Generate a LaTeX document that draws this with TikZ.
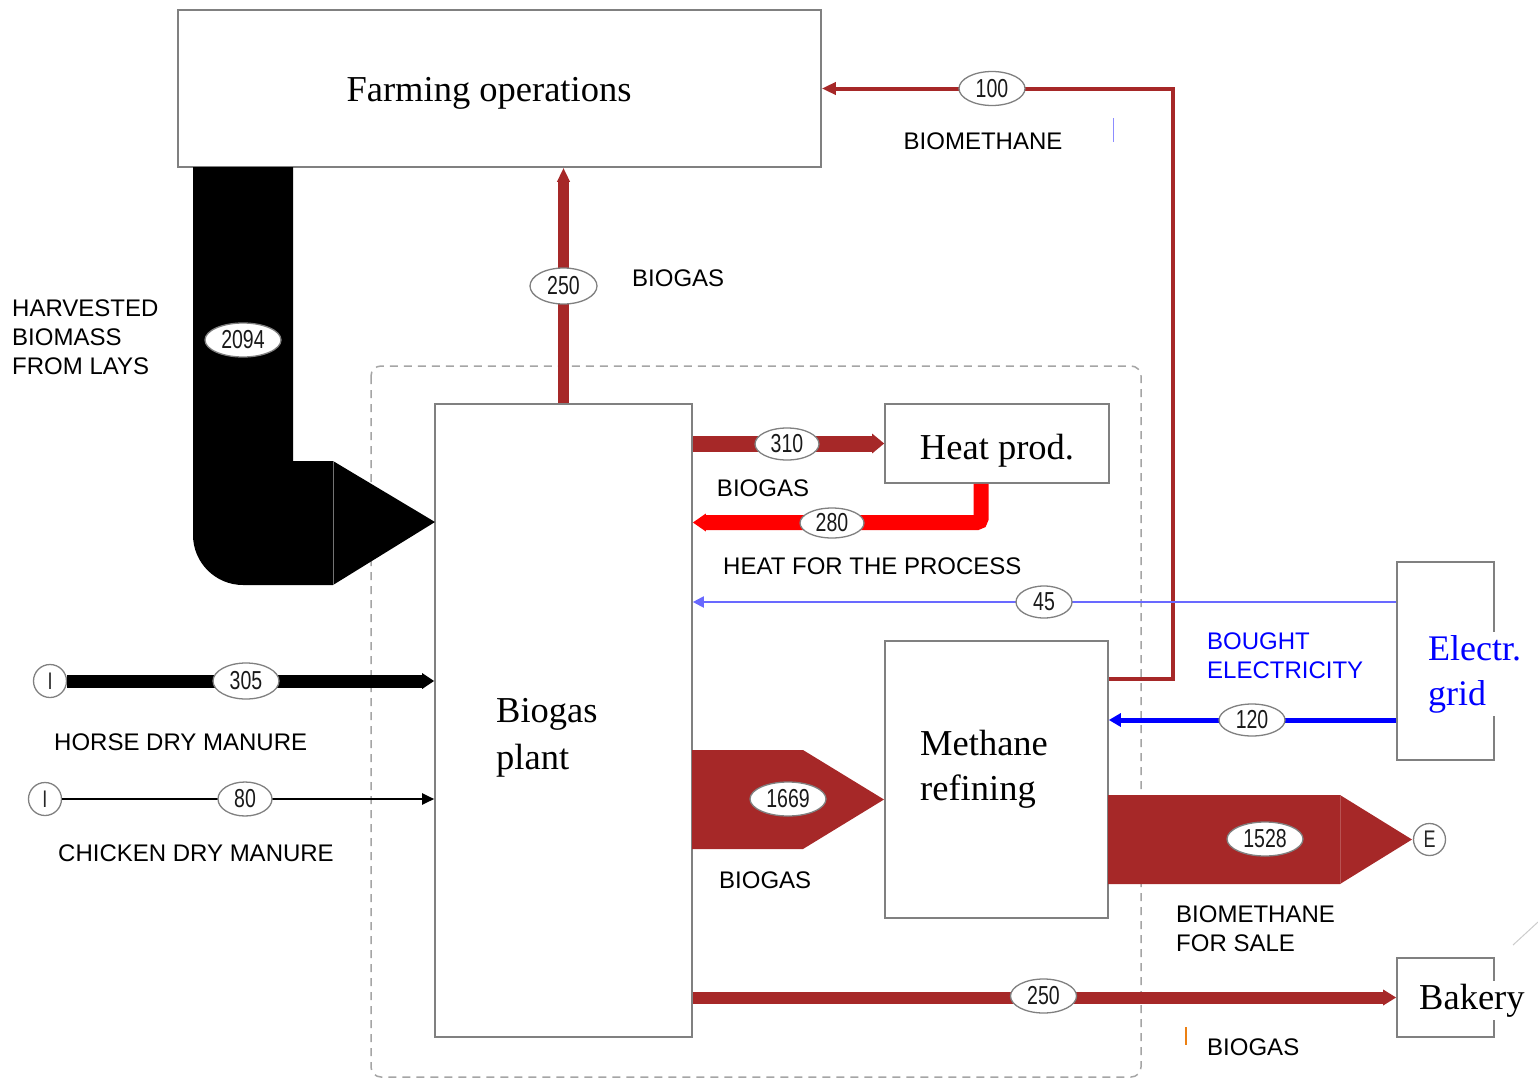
\documentclass[tikz,border=0pt]{standalone}
\usepackage{fontspec}
\setmainfont{Liberation Serif}
\setsansfont{Liberation Sans}
\newfontfamily\numfont[FakeStretch=0.75]{Liberation Sans}
\usetikzlibrary{arrows.meta,shapes.geometric,calc}

\definecolor{flowred}{RGB}{166,40,40}
\definecolor{heatred}{RGB}{255,0,0}
\definecolor{elblue}{RGB}{0,0,255}
\definecolor{ellight}{RGB}{105,105,255}
\definecolor{boxgray}{RGB}{128,128,128}
\definecolor{dashgray}{RGB}{165,165,165}

\tikzset{
  box/.style={draw=boxgray, line width=1.6pt, fill=white, inner sep=0pt},
  title/.style={font=\fontsize{36.5}{46}\selectfont, inner sep=0pt},
  lbl/.style={font=\sffamily\fontsize{24}{29}\selectfont, align=left, inner sep=0pt},
  qty/.style={ellipse, draw=boxgray, line width=1.3pt, fill=white, inner sep=0pt,
              font=\numfont\fontsize{26}{26}\selectfont, text=black!90},
  term/.style={circle, draw=boxgray, line width=1.3pt, fill=white, inner sep=0pt,
               minimum size=33pt, font=\numfont\fontsize{24}{24}\selectfont, text=black!85},
  band/.style={line join=miter},
}

\begin{document}
\begin{tikzpicture}[x=1pt,y=-1pt]
\useasboundingbox (0,0) rectangle (1538,1081);

% system boundary
\draw[dashgray, line width=1.5pt, dash pattern=on 8pt off 6pt, rounded corners=10pt]
  (371,366) rectangle (1141,1077);

% process boxes (multi-line captions are anchored on their last baseline)
\node[box, minimum width=643pt, minimum height=157pt] (farm) at (499.5,88.5) {};
\node[title] (farmtxt) at (489,93) {Farming operations};
\node[box, minimum width=257pt, minimum height=633pt] (plant) at (563.5,720.5) {};
\node[title, anchor=base west, align=left, font=\fontsize{36.5}{47}\selectfont] (planttxt) at (496,769) {Biogas\\plant};
\node[box, minimum width=224pt, minimum height=79pt] (heat) at (997,443.5) {};
\node[title] (heattxt) at (997,451) {Heat prod.};
\node[box, minimum width=223pt, minimum height=277pt] (refine) at (996.5,779.5) {};
\node[title, anchor=base west, align=left, font=\fontsize{36.5}{45}\selectfont] (refinetxt) at (920,800) {Methane\\refining};
\node[box, minimum width=97pt, minimum height=198pt] (grid) at (1445.5,661) {};
\node[title, anchor=base west, align=left, fill=white, inner sep=3pt, text=elblue,
      font=\fontsize{36}{45}\selectfont] (gridtxt) at (1425,705) {Electr.\\grid};
\node[box, minimum width=97pt, minimum height=79pt] (bakery) at (1445.5,997.5) {};
\node[title, anchor=base west, fill=white, inner sep=3pt] (bakerytxt) at (1416,1009) {Bakery};

% source and sink terminals
\node[term] (horsein) at (50,681) {I};
\node[term] (chickin) at (45,799) {I};

% harvested biomass: wide L-shaped band into the biogas plant
\fill[black] (193,167) -- (293,167) -- (293,461) -- (333,461) -- (435,522) -- (333,585)
  -- (243,585) .. controls (215.4,585) and (193,562.6) .. (193,535) -- cycle;
\draw[black!55, line width=0.8pt] (333,461) -- (333,585);

% raw biogas to methane refining
\fill[flowred] (692,750) -- (803,750) -- (884,799.5) -- (803,849) -- (692,849) -- cycle;

% biomethane for sale
\fill[flowred] (1108,795) -- (1340,795) -- (1412,839.5) -- (1340,884) -- (1108,884) -- cycle;
\draw[flowred!80!white, line width=0.6pt] (1340,795) -- (1340,884);
\node[term, minimum size=32pt] (export) at (1429.5,839.5) {E};

% line flows
\draw[flowred, line width=11pt, -{Triangle[length=14pt,width=12pt]}]
  (plant.north) -- (plant.north |- farm.south);
\draw[flowred, line width=4pt, band, -{Triangle[length=14pt,width=12pt]}]
  ($(refine.north east)+(0,39)$) -- ++(64.5,0) |- (farm.east);
\draw[flowred, line width=16pt, -{Triangle[length=12pt,width=19pt]}]
  (plant.east |- heat.west) -- (heat.west);
\draw[heatred, line width=15pt, rounded corners=4pt, -{Triangle[length=13pt,width=17pt]}]
  ($(heat.south)+(-16,0)$) |- (plant.east |- 0,522.5);
\draw[ellight, line width=2pt, -{Triangle[length=11pt,width=11pt]}]
  (grid.west |- 0,602) -- (plant.east |- 0,602);
\draw[elblue, line width=5pt, -{Triangle[length=12pt,width=13pt]}]
  (grid.west |- 0,720) -- (refine.east |- 0,720);
\draw[flowred, line width=12pt, -{Triangle[length=13pt,width=15pt]}]
  (plant.east |- bakery.west) -- (bakery.west);
\draw[black, line width=13pt, -{Triangle[length=12pt,width=15pt]}]
  (horsein.east) -- (plant.west |- horsein.east);
\draw[black, line width=2pt, -{Triangle[length=12pt,width=11pt]}]
  (chickin.east) -- (plant.west |- chickin.east);

% flow quantities
\node[qty, minimum width=76pt, minimum height=34pt] (q2094) at (243,340) {2094};
\node[qty, minimum width=66pt, minimum height=34pt] (q100) at (992,88.5) {100};
\node[qty, minimum width=67pt, minimum height=36pt] (q250a) at (563.5,286) {250};
\node[qty, minimum width=64pt, minimum height=32pt] (q310) at (787,444) {310};
\node[qty, minimum width=64pt, minimum height=30pt] (q280) at (832,523) {280};
\node[qty, minimum width=56pt, minimum height=32pt] (q45) at (1044,602) {45};
\node[qty, minimum width=66pt, minimum height=32pt] (q120) at (1252,720) {120};
\node[qty, minimum width=66pt, minimum height=36pt] (q305) at (246,681) {305};
\node[qty, minimum width=54pt, minimum height=34pt] (q80) at (245,799) {80};
\node[qty, minimum width=76pt, minimum height=34pt] (q1669) at (788,799) {1669};
\node[qty, minimum width=76pt, minimum height=34pt] (q1528) at (1265,839) {1528};
\node[qty, minimum width=66pt, minimum height=34pt] (q250b) at (1043.5,996) {250};

% flow names (multi-line ones anchored on their last baseline)
\node[lbl, anchor=base] (tbiomethane) at (983,149) {BIOMETHANE};
\node[lbl, anchor=base west] (tbiogasup) at (632,286) {BIOGAS};
\node[lbl, anchor=base west] (tharvest) at (12,374) {HARVESTED\\BIOMASS\\FROM LAYS};
\node[lbl, anchor=base] (tbiogasheat) at (763,496) {BIOGAS};
\node[lbl, anchor=base west] (theat) at (723,574) {HEAT FOR THE PROCESS};
\node[lbl, anchor=base west, text=elblue] (tbought) at (1207,678) {BOUGHT\\ELECTRICITY};
\node[lbl, anchor=base west] (thorse) at (54,750) {HORSE DRY MANURE};
\node[lbl, anchor=base west] (tchicken) at (58,861) {CHICKEN DRY MANURE};
\node[lbl, anchor=base west] (tbiogasref) at (719,888) {BIOGAS};
\node[lbl, anchor=base west] (tsale) at (1176,951) {BIOMETHANE\\FOR SALE};
\node[lbl, anchor=base west] (tbiogasbak) at (1207,1055) {BIOGAS};

% small stray strokes
\draw[elblue!45, line width=1pt] (1113,118) -- (1113,142);
\draw[orange!70!brown, line width=1.2pt] (1186,1027) -- (1186,1045);
\draw[black!20, line width=1pt] (1513,945) -- (1538,922);
\end{tikzpicture}
\end{document}
